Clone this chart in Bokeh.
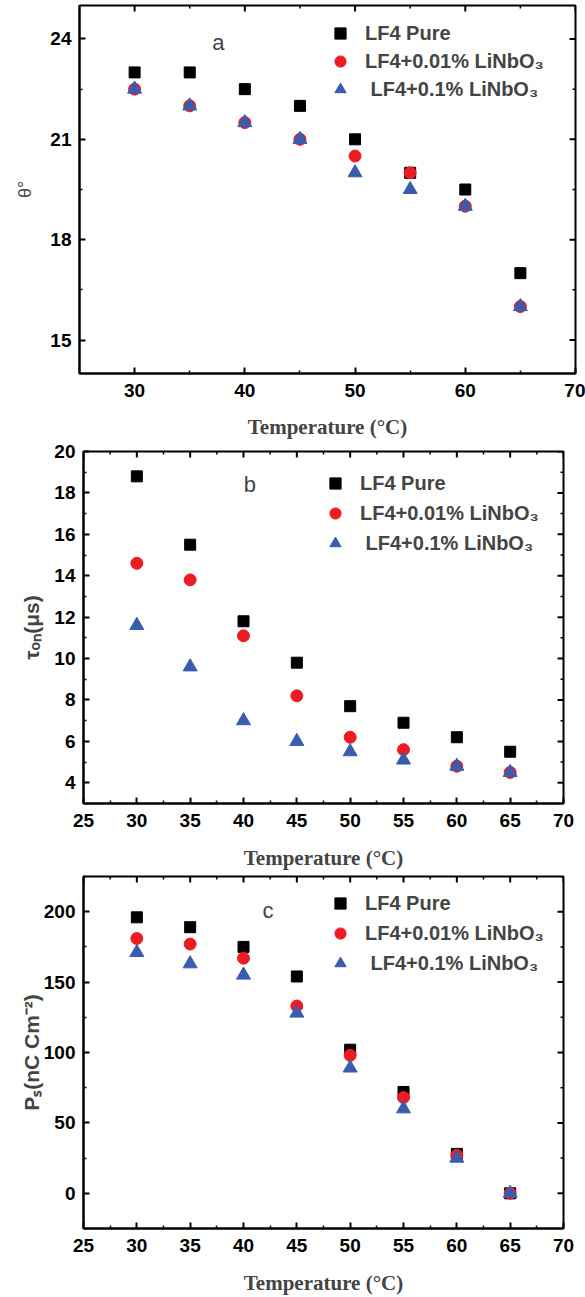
from bokeh.plotting import figure
from bokeh.models import FixedTicker, Range1d, Legend, LegendItem, Label
from bokeh.embed import file_html
from bokeh.resources import INLINE

# ---------------- data ----------------
temperature = [30, 35, 40, 45, 50, 55, 60, 65]

theta_pure = [23.0, 23.0, 22.5, 22.0, 21.0, 20.0, 19.5, 17.0]
theta_001 = [22.5, 22.0, 21.5, 21.0, 20.5, 20.0, 19.0, 16.0]
theta_01 = [22.5, 22.0, 21.5, 21.0, 20.0, 19.5, 19.0, 16.0]

tau_pure = [18.8, 15.5, 11.8, 9.8, 7.7, 6.9, 6.2, 5.5]
tau_001 = [14.6, 13.8, 11.1, 8.2, 6.2, 5.6, 4.8, 4.5]
tau_01 = [11.6, 9.6, 7.0, 6.0, 5.5, 5.1, 4.8, 4.5]

ps_pure = [196, 189, 175, 154, 102, 72, 28, 0]
ps_001 = [181, 177, 167, 133, 98, 68, 27, 0]
ps_01 = [171, 163, 155, 128, 89, 60, 25, 0]

series_labels = ["LF4 Pure", "LF4+0.01% LiNbO\u2083", " LF4+0.1% LiNbO\u2083"]
x_title = "Temperature (\u00b0C)"

x_ticks_a = [30, 40, 50, 60, 70]
x_minor_a = [35, 45, 55, 65]
x_ticks_bc = [25, 30, 35, 40, 45, 50, 55, 60, 65, 70]
x_minor_bc = [27.5, 32.5, 37.5, 42.5, 47.5, 52.5, 57.5, 62.5, 67.5]
y_ticks_a = [15, 18, 21, 24]
y_minor_a = [16.5, 19.5, 22.5]
y_ticks_b = [4, 6, 8, 10, 12, 14, 16, 18, 20]
y_minor_b = [5, 7, 9, 11, 13, 15, 17, 19]
y_ticks_c = [0, 50, 100, 150, 200]
y_minor_c = [-25, 25, 75, 125, 175, 225]

BLACK = "#000000"
RED = "#ec1c24"
BLUE = "#3a5cae"
SANS = "Liberation Sans"
SERIF = "Liberation Serif"
WIDTH = 585


def style_axis(ax, ticks, minor):
    ax.ticker = FixedTicker(ticks=ticks, minor_ticks=minor)
    ax.axis_line_width = 2
    ax.axis_line_color = "black"
    ax.major_tick_in = 6
    ax.major_tick_out = 0
    ax.minor_tick_in = 3
    ax.minor_tick_out = 0
    ax.major_tick_line_width = 2
    ax.minor_tick_line_width = 1.5
    ax.major_label_text_font = SANS
    ax.major_label_text_font_style = "bold"
    ax.major_label_text_font_size = "19px"
    ax.major_label_text_color = "black"


def mirror_ticks(p, xr, yr, xt, xm, yt, ym, fw, fh):
    dx = (xr[1] - xr[0]) / fw
    dy = (yr[1] - yr[0]) / fh
    for ticks, ln, lw in ((xt, 6, 2), (xm, 3, 1.5)):
        n = len(ticks)
        p.segment(x0=ticks, y0=[yr[1]] * n, x1=ticks, y1=[yr[1] - ln * dy] * n,
                  line_color="black", line_width=lw)
    for ticks, ln, lw in ((yt, 6, 2), (ym, 3, 1.5)):
        n = len(ticks)
        p.segment(x0=[xr[1]] * n, y0=ticks, x1=[xr[1] - ln * dx] * n, y1=ticks,
                  line_color="black", line_width=lw)


def make_panel(ys, xr, yr, xt, xm, yt, ym, height, borders, ylabel, ylabel_style,
               ylabel_size, ylabel_standoff, xlabel_standoff, letter, letter_pos, leg_loc, leg_spacing):
    bl, br, bt, bb = borders
    fw = WIDTH - bl - br
    fh = height - bt - bb
    p = figure(width=WIDTH, height=height, x_range=Range1d(*xr), y_range=Range1d(*yr),
               output_backend="svg", toolbar_location=None,
               min_border_left=bl, min_border_right=br, min_border_top=bt, min_border_bottom=bb)
    p.xgrid.visible = False
    p.ygrid.visible = False
    p.outline_line_color = "black"
    p.outline_line_width = 2
    p.background_fill_color = "white"
    p.border_fill_color = "white"

    style_axis(p.xaxis[0], xt, xm)
    style_axis(p.yaxis[0], yt, ym)
    p.xaxis[0].major_label_standoff = 10
    p.yaxis[0].major_label_standoff = 8
    p.xaxis[0].axis_label = x_title
    p.xaxis[0].axis_label_text_font = SERIF
    p.xaxis[0].axis_label_text_font_style = "bold"
    p.xaxis[0].axis_label_text_font_size = "21px"
    p.xaxis[0].axis_label_standoff = xlabel_standoff
    p.yaxis[0].axis_label = ylabel
    p.yaxis[0].axis_label_text_font = SANS
    p.yaxis[0].axis_label_text_font_style = ylabel_style
    p.yaxis[0].axis_label_text_font_size = ylabel_size
    p.yaxis[0].axis_label_standoff = ylabel_standoff

    mirror_ticks(p, xr, yr, xt, xm, yt, ym, fw, fh)

    r1 = p.scatter(temperature, ys[0], marker="square", size=11, color=BLACK)
    r2 = p.scatter(temperature, ys[1], marker="circle", size=12, color=RED)
    r3 = p.scatter(temperature, ys[2], marker="triangle", size=14, color=BLUE)

    legend = Legend(items=[LegendItem(label=series_labels[0], renderers=[r1]),
                           LegendItem(label=series_labels[1], renderers=[r2]),
                           LegendItem(label=series_labels[2], renderers=[r3])],
                    location=leg_loc, orientation="vertical",
                    label_text_font=SANS, label_text_font_style="bold", label_text_font_size="20px",
                    glyph_width=30, glyph_height=28, label_standoff=10, label_height=28,
                    spacing=leg_spacing, padding=0, margin=0,
                    border_line_color=None, background_fill_alpha=0)
    p.add_layout(legend)

    lab = Label(x=letter_pos[0], y=letter_pos[1], text=letter, text_font=SANS,
                text_font_size="22px", text_align="center", text_baseline="middle")
    p.add_layout(lab)
    return p


pa = make_panel([theta_pure, theta_001, theta_01], (25, 70), (14, 25),
                x_ticks_a, x_minor_a, y_ticks_a, y_minor_a,
                height=441, borders=(79, 10, 5, 66),
                ylabel="\u03b8\u00b0", ylabel_style="normal", ylabel_size="18px",
                ylabel_standoff=12, xlabel_standoff=15,
                letter="a", letter_pos=(37.6, 23.9), leg_loc=(246, 270), leg_spacing=0)

pb = make_panel([tau_pure, tau_001, tau_01], (25, 70), (3, 20),
                x_ticks_bc, x_minor_bc, y_ticks_b, y_minor_b,
                height=431, borders=(83, 22, 10, 69),
                ylabel="\u03c4\u2092\u2099(\u03bcs)", ylabel_style="bold", ylabel_size="21px",
                ylabel_standoff=8, xlabel_standoff=16,
                letter="b", letter_pos=(40.6, 18.4), leg_loc=(237, 246), leg_spacing=2)

pc = make_panel([ps_pure, ps_001, ps_01], (25, 70), (-25, 225),
                x_ticks_bc, x_minor_bc, y_ticks_c, y_minor_c,
                height=425, borders=(83, 22, 4, 69),
                ylabel="P\u209b(nC Cm\u207b\u00b2)", ylabel_style="bold", ylabel_size="21px",
                ylabel_standoff=-2, xlabel_standoff=16,
                letter="c", letter_pos=(42.3, 201), leg_loc=(242, 251), leg_spacing=2)

# three independent roots stacked on the page (keeps each panel's own frame geometry)
open("out.html", "w").write(file_html([pa, pb, pc], INLINE))
